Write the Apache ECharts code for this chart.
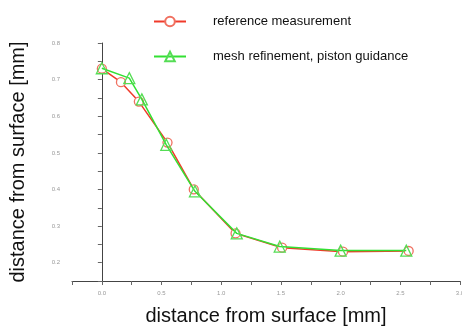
<!DOCTYPE html>
<html>
<head>
<meta charset="utf-8">
<script src="https://cdn.jsdelivr.net/npm/echarts@6/dist/echarts.min.js"></script>
<style>
  html, body { margin: 0; padding: 0; background: #fff; }
  #chart { width: 462px; height: 327px; }
</style>
</head>
<body>
<div id="chart"></div>
<script>
const refX = [0.0, 0.16, 0.31, 0.55, 0.77, 1.12, 1.51, 2.02, 2.57];
const refY = [0.73, 0.693, 0.64, 0.528, 0.40, 0.28, 0.241, 0.23, 0.232];
const meshX = [0.0, 0.23, 0.335, 0.54, 0.78, 1.13, 1.49, 2.0, 2.55];
const meshY = [0.731, 0.704, 0.646, 0.522, 0.395, 0.28, 0.244, 0.233, 0.233];

const pairs = (xs, ys) => xs.map((x, i) => [x, ys[i]]);

const chart = echarts.init(document.getElementById('chart'));

const axisCommon = {
  axisLine: { show: true, lineStyle: { color: '#444', width: 1 } },
  axisTick: { show: true, length: 4, lineStyle: { color: '#666' } },
  splitLine: { show: false },
  nameTextStyle: { fontFamily: 'Liberation Sans', fontSize: 20, color: '#111' }
};

chart.setOption({
  animation: false,
  grid: { left: 72, right: 2, top: 43, bottom: 46, containLabel: false, outerBoundsMode: 'none' },
  legend: {
    orient: 'vertical',
    left: 148,
    top: 10,
    itemWidth: 32,
    itemHeight: 12,
    itemGap: 22,
    textStyle: { fontFamily: 'Liberation Sans', fontSize: 13, color: '#111', padding: [0, 0, 0, 22] },
    data: ['reference measurement', 'mesh refinement, piston guidance']
  },
  xAxis: Object.assign({}, axisCommon, {
    type: 'value',
    min: -0.25,
    max: 3,
    interval: 0.25,
    name: 'distance from surface [mm]',
    nameLocation: 'middle',
    nameGap: 25,
    axisLabel: {
      fontSize: 6, color: '#999', margin: 9,
      formatter: v => Math.abs(v * 2 - Math.round(v * 2)) < 1e-6 ? v.toFixed(1) : ''
    }
  }),
  yAxis: Object.assign({}, axisCommon, {
    type: 'value',
    min: 0.15,
    max: 0.8,
    interval: 0.05,
    name: 'distance from surface [mm]',
    nameLocation: 'middle',
    nameGap: 44,
    axisLabel: {
      fontSize: 6, color: '#999', margin: 12,
      formatter: v => Math.abs(v * 10 - Math.round(v * 10)) < 1e-6 ? v.toFixed(1) : ''
    }
  }),
  series: [
    {
      name: 'reference measurement',
      type: 'line',
      data: pairs(refX, refY),
      symbol: 'circle',
      symbolSize: 9,
      lineStyle: { color: '#f03a2a', width: 1.5 },
      itemStyle: { color: '#fff', borderColor: '#f07060', borderWidth: 1.3 },
      z: 2
    },
    {
      name: 'mesh refinement, piston guidance',
      type: 'line',
      data: pairs(meshX, meshY),
      symbol: 'triangle',
      symbolSize: 11,
      lineStyle: { color: '#33e033', width: 1.5 },
      itemStyle: { color: 'rgba(255,255,255,0)', borderColor: '#55dd55', borderWidth: 1.3 },
      z: 3
    }
  ]
});
</script>
</body>
</html>
